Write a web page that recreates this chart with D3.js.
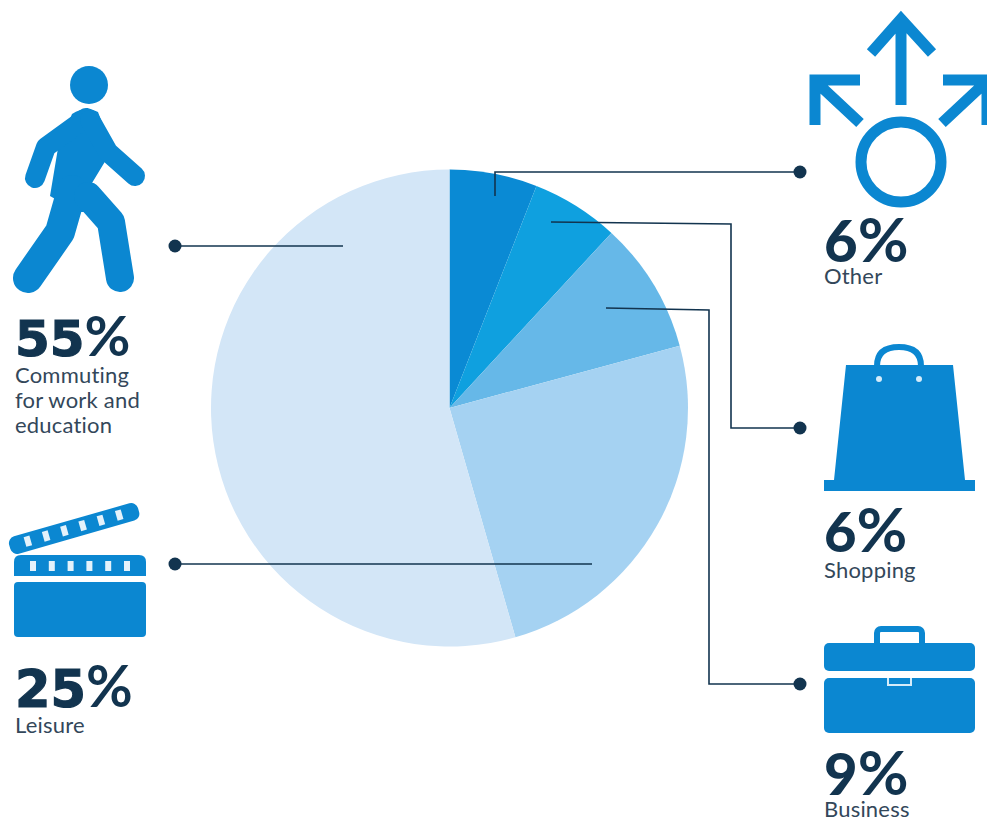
<!DOCTYPE html>
<html>
<head>
<meta charset="utf-8">
<script src="https://cdnjs.cloudflare.com/ajax/libs/d3/7.8.5/d3.min.js"></script>
<style>
html,body{margin:0;padding:0;background:#fff;}
svg{display:block;}
text{font-family:Lato,"Open Sans",sans-serif;}
</style>
</head>
<body>
<svg id="chart" width="987" height="818"></svg>
<script>
// Share of trips by purpose, clockwise from twelve o'clock
const categories = ["Other", "Shopping", "Business", "Leisure", "Commuting"];
const shares = [6, 6, 9, 25, 55];
const sliceColors = ["#0a8ad4", "#0fa0df", "#66b8e8", "#a5d2f2", "#d3e6f7"];

const labelLines = [
  ["Other"],
  ["Shopping"],
  ["Business"],
  ["Leisure"],
  ["Commuting", "for work and", "education"]
];

const ink = "#12344f";
const iconBlue = "#0b87d1";
const svg = d3.select("#chart");

// Pie
const cx = 449.5, cy = 408, radius = 238.5;
const pie = d3.pie().sort(null).value(d => d)(shares);
const arc = d3.arc().innerRadius(0).outerRadius(radius);
svg.append("g").attr("transform", `translate(${cx},${cy})`)
  .selectAll("path").data(pie).join("path")
  .attr("d", arc)
  .attr("fill", (d, i) => sliceColors[i]);

// Leader lines from each slice out to its dot
const leaders = [
  {pts: [[495, 196], [495, 172], [800, 172]]},
  {pts: [[551, 222], [731, 224], [731, 428], [800, 428]]},
  {pts: [[606, 308], [709, 310], [709, 684], [800, 684]]},
  {pts: [[592, 564], [175, 564]]},
  {pts: [[343, 246], [175, 246]]}
];
const line = d3.line();
const leaderG = svg.append("g");
leaderG.selectAll("path").data(leaders).join("path")
  .attr("d", d => line(d.pts))
  .attr("fill", "none").attr("stroke", ink).attr("stroke-width", 1.6);
leaderG.selectAll("circle").data(leaders).join("circle")
  .attr("cx", d => d.pts[d.pts.length - 1][0])
  .attr("cy", d => d.pts[d.pts.length - 1][1])
  .attr("r", 6.5).attr("fill", ink);

// Value and caption blocks: single digits run larger in a narrow face, pairs in a wide one
const blocks = [
  {x: 824, y: 262, face: "Lato", size: 58, pct: 62, cap: 284, step: 0},
  {x: 824, y: 552, face: "Lato", size: 56, pct: 62, cap: 578, step: 0},
  {x: 824, y: 795, face: "Lato", size: 58, pct: 62, cap: 817, step: 0},
  {x: 15, y: 707, face: "DejaVu Sans", size: 51, pct: 57, cap: 733, step: 0},
  {x: 15, y: 356, face: "DejaVu Sans", size: 50, pct: 56, cap: 383, step: 25}
];
const labelG = svg.append("g");
blocks.forEach((b, i) => {
  const wide = b.face !== "Lato";
  const value = labelG.append("text").attr("x", b.x).attr("y", b.y).attr("fill", ink);
  value.append("tspan")
    .style("font-family", `"${b.face}",sans-serif`)
    .attr("font-size", b.size).attr("font-weight", wide ? 700 : 900)
    .attr("stroke", ink).attr("stroke-width", wide ? 1.2 : 0)
    .text(shares[i]);
  value.append("tspan")
    .style("font-family", "Lato,sans-serif")
    .attr("font-size", b.pct).attr("font-weight", 700).text("%");
  labelLines[i].forEach((t, j) => {
    labelG.append("text").attr("x", b.x).attr("y", b.cap + j * b.step)
      .attr("font-size", 22).attr("letter-spacing", 0.2).attr("fill", "#33475a").text(t);
  });
});

// Walking figure: head, torso and four rounded limbs
const walker = svg.append("g");
walker.append("circle").attr("cx", 89).attr("cy", 85).attr("r", 19).attr("fill", iconBlue);
walker.append("path")
  .attr("d", "M72,114 Q86,105 98,112 L112,150 L92,183 L118,212 L78,212 L50,196 L58,148Z")
  .attr("fill", iconBlue);
const limb = (pts, w) => walker.append("path")
  .attr("d", line(pts))
  .attr("fill", "none").attr("stroke", iconBlue).attr("stroke-width", w)
  .attr("stroke-linecap", "round").attr("stroke-linejoin", "round");
limb([[86, 118], [46, 147], [35, 178]], 20);
limb([[90, 120], [108, 152], [135, 176]], 20);
limb([[72, 190], [60, 232], [28, 278]], 30);
limb([[88, 196], [111, 222], [120, 278]], 28);

// Arrows and ring
const arrows = svg.append("g").attr("fill", "none").attr("stroke", iconBlue).attr("stroke-width", 11);
arrows.append("circle").attr("cx", 901).attr("cy", 162).attr("r", 40);
arrows.append("path").attr("d", "M901,105 V20 M871,53 L901,19 L932,53");
arrows.append("path").attr("d", "M860,123 L815,81 M815,125 V80 H860");
arrows.append("path").attr("d", "M942,123 L987,81 M943,80 H987 M987,80 V125");

// Shopping bag
const bag = svg.append("g");
bag.append("path")
  .attr("d", "M877,365 V366 Q877,347 899,347 Q921,347 921,366")
  .attr("fill", "none").attr("stroke", iconBlue).attr("stroke-width", 6);
bag.append("path")
  .attr("d", "M846,365 H953 L965,480 H975 V491 H824 V480 H834Z")
  .attr("fill", iconBlue);
bag.selectAll("circle").data([879, 919]).join("circle")
  .attr("cx", d => d).attr("cy", 379).attr("r", 3).attr("fill", "#d5ecfa");

// Briefcase
const caseG = svg.append("g").attr("fill", iconBlue);
caseG.append("rect").attr("x", 877).attr("y", 629).attr("width", 45).attr("height", 22).attr("rx", 4)
  .attr("fill", "none").attr("stroke", iconBlue).attr("stroke-width", 6);
caseG.append("rect").attr("x", 824).attr("y", 643).attr("width", 151).attr("height", 28).attr("rx", 5);
caseG.append("rect").attr("x", 824).attr("y", 678).attr("width", 151).attr("height", 55).attr("rx", 5);
caseG.append("path").attr("d", "M888,678 V685 H911 V678")
  .attr("fill", "none").attr("stroke", "#d5ecfa").attr("stroke-width", 2);

// Clapperboard
const clap = svg.append("g");
clap.append("path")
  .attr("d", "M14,576 V562 Q14,555 21,555 H139 Q146,555 146,562 V576Z").attr("fill", iconBlue);
clap.append("rect").attr("x", 14).attr("y", 582).attr("width", 132).attr("height", 55).attr("rx", 4).attr("fill", iconBlue);
clap.selectAll(".peg").data(d3.range(6)).join("rect").attr("class", "peg")
  .attr("x", d => 30 + d * 18.8).attr("y", 561).attr("width", 6).attr("height", 10)
  .attr("fill", "#e4f2fb");
const flap = clap.append("g").attr("transform", "translate(74,528) rotate(-16)");
flap.append("rect").attr("x", -67).attr("y", -8.5).attr("width", 134).attr("height", 18).attr("rx", 7).attr("fill", iconBlue);
flap.selectAll("rect.peg").data(d3.range(6)).join("rect").attr("class", "peg")
  .attr("x", d => -51 + d * 19).attr("y", -5).attr("width", 6).attr("height", 10)
  .attr("fill", "#e4f2fb");
</script>
</body>
</html>
